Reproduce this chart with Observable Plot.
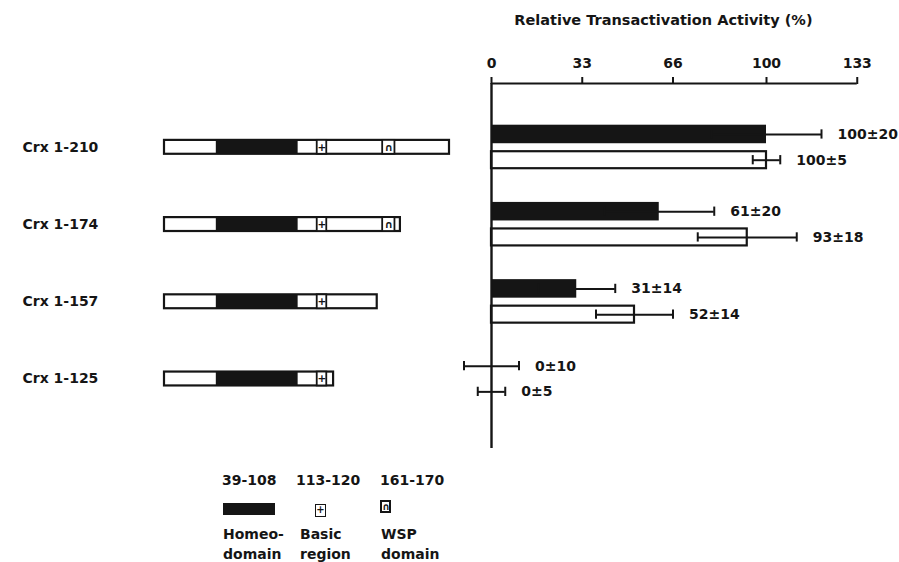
<!DOCTYPE html>
<html><head><meta charset="utf-8">
<script src="https://cdn.jsdelivr.net/npm/d3@7"></script>
<script src="https://cdn.jsdelivr.net/npm/@observablehq/plot@0.6"></script>
<style>
body{margin:0;background:#fff;}
#chart{position:relative;width:899px;height:562px;overflow:hidden;background:#fff;font-family:"DejaVu Sans",Verdana,sans-serif;font-weight:bold;font-size:14px;color:#151515;}
#chart svg{position:absolute;top:0;background:transparent;}
.lg{position:absolute;line-height:16px;white-space:nowrap;}
.ico{position:absolute;box-sizing:border-box;}
</style></head><body><div id="chart"></div>
<script>
// ---- data ----
const constructs = ["Crx 1-210", "Crx 1-174", "Crx 1-157", "Crx 1-125"];
const constructStart = [1, 1, 1, 1];
const constructEnd = [210, 174, 157, 125];
const blackMean = [100, 61, 31, 0];
const blackSD = [20, 20, 14, 10];
const whiteMean = [100, 93, 52, 0];
const whiteSD = [5, 18, 14, 5];
const homeodomainDrawn = [39, 99];   // black block as drawn in the diagram
const basicRegion = [113, 120];
const wspDomain = [161, 170];
const xTicks = [0, 33, 66, 100, 133];
const axisTitle = "Relative Transactivation Activity (%)";
const legendRanges = ["39-108", "113-120", "161-170"];
const legendNames = [["Homeo-", "domain"], ["Basic", "region"], ["WSP", "domain"]];

// ---- derived tables ----
const ink = "#151515";
const FS = 14;
const bars = constructs.flatMap((c, i) => [
  {construct: c, series: "black", row: 3 * i, mean: blackMean[i], sd: blackSD[i]},
  {construct: c, series: "white", row: 3 * i + 1, mean: whiteMean[i], sd: whiteSD[i]}
]).map(d => ({...d, label: `${d.mean}±${d.sd}`}));
const caps = bars.flatMap(d => [{x: d.mean - d.sd, row: d.row}, {x: d.mean + d.sd, row: d.row}]);
const boxes = constructs.map((c, i) => ({construct: c, start: constructStart[i], end: constructEnd[i], row: 3 * i + 0.5}));
const homeo = boxes.map(b => ({row: b.row, a: homeodomainDrawn[0], b: homeodomainDrawn[1]}));
const motifs = boxes.flatMap(b => {
  const m = [];
  if (b.end >= basicRegion[1]) m.push({row: b.row, a: basicRegion[0], b: basicRegion[1], glyph: "+"});
  if (b.end >= wspDomain[1]) m.push({row: b.row, a: wspDomain[0], b: wspDomain[1], glyph: "∩"});
  return m;
});

const H = 460;
const yDomain = [-1.98, 12.2];
const yOpt = {domain: yDomain, range: [83, 448], axis: null};
const style = {fontFamily: '"DejaVu Sans", Verdana, sans-serif', fontWeight: "bold", fontSize: FS + "px", color: ink, background: "transparent", overflow: "visible"};

const barPlot = Plot.plot({
  width: 429, height: H, marginLeft: 21, marginRight: 42.25, marginTop: 83, marginBottom: H - 448,
  x: {domain: [0, 133], axis: null},
  y: yOpt,
  style,
  marks: [
    Plot.rect(bars.filter(d => d.series === "white" && d.mean > 0), {x1: d => 0, x2: "mean", y1: d => d.row - 0.33, y2: d => d.row + 0.33, fill: "white", stroke: ink, strokeWidth: 2.2}),
    Plot.rect(bars.filter(d => d.series === "black" && d.mean > 0), {x1: d => 0, x2: "mean", y1: d => d.row - 0.36, y2: d => d.row + 0.36, fill: ink}),
    Plot.ruleY(bars, {y: "row", x1: d => d.mean - d.sd, x2: d => d.mean + d.sd, stroke: ink, strokeWidth: 2}),
    Plot.ruleX(caps, {x: "x", y1: d => d.row - 0.18, y2: d => d.row + 0.18, stroke: ink, strokeWidth: 2}),
    Plot.ruleX([0], {stroke: ink, strokeWidth: 2.4}),
    Plot.ruleY([yDomain[0]], {stroke: ink, strokeWidth: 2}),
    Plot.axisX(xTicks, {anchor: "top", tickSize: 7, tickPadding: 9, stroke: ink, strokeWidth: 2, fill: ink, fontSize: FS, fontWeight: "bold"}),
    Plot.text(bars, {x: d => d.mean + d.sd, y: "row", text: "label", dx: 16, textAnchor: "start", fill: ink, fontSize: FS, fontWeight: "bold"}),
    Plot.text([axisTitle], {frameAnchor: "top", dy: -63, dx: -11, lineAnchor: "middle", fill: ink, fontSize: FS + 0.5, fontWeight: "bold"})
  ]
});
barPlot.style.left = "470px";

const diagPlot = Plot.plot({
  width: 470, height: H, marginLeft: 164, marginRight: 21, marginTop: 83, marginBottom: H - 448,
  x: {domain: [1, 210], axis: null},
  y: yOpt,
  style,
  marks: [
    Plot.rect(boxes, {x1: "start", x2: "end", y1: d => d.row - 0.27, y2: d => d.row + 0.27, fill: "white", stroke: ink, strokeWidth: 2.2}),
    Plot.rect(homeo, {x1: "a", x2: "b", y1: d => d.row - 0.27, y2: d => d.row + 0.27, fill: ink}),
    Plot.rect(motifs, {x1: "a", x2: "b", y1: d => d.row - 0.27, y2: d => d.row + 0.27, fill: "white", stroke: ink, strokeWidth: 1.8}),
    Plot.text(motifs, {x: d => (d.a + d.b) / 2, y: "row", text: "glyph", fill: ink, fontSize: 10.5, fontWeight: "bold"}),
    Plot.text(boxes, {x: "start", y: "row", text: "construct", dx: -142, textAnchor: "start", fill: ink, fontSize: FS, fontWeight: "bold"})
  ]
});
diagPlot.style.left = "0px";

const chart = document.getElementById("chart");
chart.appendChild(diagPlot);
chart.appendChild(barPlot);

// ---- legend (below the chart) ----
const colLeft = [222, 296, 380];
legendRanges.forEach((t, i) => {
  const s = document.createElement("div");
  s.className = "lg"; s.textContent = t;
  s.style.left = colLeft[i] + "px"; s.style.top = "472px";
  chart.appendChild(s);
  legendNames[i].forEach((n, j) => {
    const e = document.createElement("div");
    e.className = "lg"; e.textContent = n;
    e.style.left = (colLeft[i] + (i === 1 ? 4 : 1)) + "px"; e.style.top = (526 + 20 * j) + "px";
    chart.appendChild(e);
  });
});
const ic1 = document.createElement("div");
ic1.className = "ico";
Object.assign(ic1.style, {left: "223px", top: "503px", width: "52px", height: "12px", background: ink});
chart.appendChild(ic1);
const ic2 = document.createElement("div");
ic2.className = "ico";
Object.assign(ic2.style, {left: "315px", top: "504px", width: "11px", height: "13px", border: "1.6px solid " + ink, fontSize: "10px", lineHeight: "10px", textAlign: "center"});
ic2.textContent = "+";
chart.appendChild(ic2);
const ic3 = document.createElement("div");
ic3.className = "ico";
Object.assign(ic3.style, {left: "380px", top: "500px", width: "11px", height: "13px", border: "2px solid " + ink, fontSize: "10px", lineHeight: "9px", textAlign: "center"});
ic3.textContent = "∩";
chart.appendChild(ic3);
</script></body></html>
